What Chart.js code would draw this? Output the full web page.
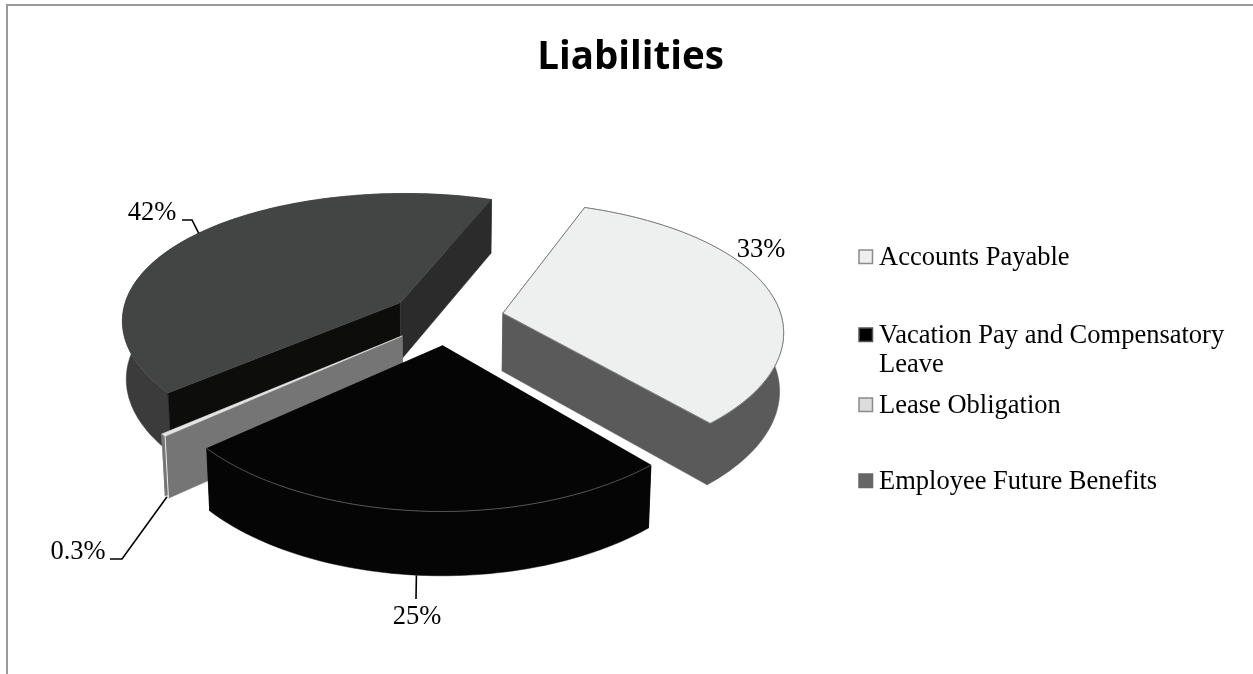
<!DOCTYPE html>
<html>
<head>
<meta charset="utf-8">
<title>Liabilities</title>
<script src="https://cdn.jsdelivr.net/npm/chart.js@4"></script>
<style>
  html, body { margin: 0; background: #fff; overflow: hidden; }
  #frame {
    position: absolute; left: 6px; top: 4px; right: 0; bottom: 0;
    border-top: 2px solid #999; border-left: 2px solid #999;
  }
  #chart { position: absolute; left: 0; top: 0; }
</style>
</head>
<body>
<div id="frame"></div>
<canvas id="chart" width="1253" height="674"></canvas>
<script>
const categories = ['Accounts Payable', 'Vacation Pay and Compensatory Leave', 'Lease Obligation', 'Employee Future Benefits'];
const shares = [33, 25, 0.3, 42];
const shareLabels = ['33%', '25%', '0.3%', '42%'];
const legendLines = [['Accounts Payable'], ['Vacation Pay and Compensatory', 'Leave'], ['Lease Obligation'], ['Employee Future Benefits']];

// slice shading
const topColors = ['#eef0ef', '#050505', '#e4e5e4', '#434544'];
const wallColors = ['#595a59', '#050505', '#cfd0cf', '#3a3b3a'];
const startFaceColors = ['#595a59', '#050505', '#747574', '#0d0d0b'];
const endFaceColors = ['#595a59', '#050505', '#747574', '#2b2b2b'];
const swatchColors = ['#eeeeee', '#000000', '#dddddd', '#666666'];
const swatchBorders = ['#8a8a8a', '#555555', '#8a8a8a', '#666666'];

// painter's order, back of the pie first
const drawOrder = [3, 2, 0, 1];

// tilted pie view
const view = { x: 446.5, y: 318, tilt: 0.468, perspective: 0.000554, widthPerspective: 0.8, depth: 58, taper: 0.012 };

function project(el, angle, radius, level) {
  // arc offsets are applied at a quarter of their value, same as ArcElement.draw
  const mid = (el.startAngle + el.endAngle) / 2;
  const shift = (el.options.offset || 0) / 4;
  const dx = Math.cos(mid) * shift + Math.cos(angle) * radius;
  const dy = Math.sin(mid) * shift + Math.sin(angle) * radius;
  const s = 1 / (1 - view.perspective * dy);
  const sx = 1 + (s - 1) * view.widthPerspective;
  return {
    x: view.x + dx * sx * (1 - view.taper * level),
    y: view.y + view.tilt * dy * s + level * view.depth * Math.sqrt(s)
  };
}

function rimPoints(el, level) {
  const pts = [];
  const steps = Math.max(2, Math.ceil((el.endAngle - el.startAngle) * 40));
  for (let i = 0; i <= steps; i++) {
    const a = el.startAngle + (el.endAngle - el.startAngle) * i / steps;
    pts.push(project(el, a, el.outerRadius, level));
  }
  return pts;
}

function fillPath(ctx, pts, color) {
  ctx.beginPath();
  pts.forEach((p, i) => i ? ctx.lineTo(p.x, p.y) : ctx.moveTo(p.x, p.y));
  ctx.closePath();
  ctx.fillStyle = color;
  ctx.fill();
  // hairline so neighbouring polygons don't leave a seam
  ctx.strokeStyle = color;
  ctx.lineWidth = 0.5;
  ctx.stroke();
}

function strokeLine(ctx, pts, color, width) {
  ctx.beginPath();
  pts.forEach((p, i) => i ? ctx.lineTo(p.x, p.y) : ctx.moveTo(p.x, p.y));
  ctx.strokeStyle = color;
  ctx.lineWidth = width;
  ctx.stroke();
}

function drawSlice(ctx, el, i) {
  const apexTop = project(el, el.startAngle, 0, 0);
  const apexLow = project(el, el.startAngle, 0, 1);
  const top = rimPoints(el, 0);
  const low = rimPoints(el, 1);
  const last = top.length - 1;

  fillPath(ctx, top.concat(low.slice().reverse()), wallColors[i]);
  fillPath(ctx, [apexTop, top[0], low[0], apexLow], startFaceColors[i]);
  fillPath(ctx, [apexTop, top[last], low[last], apexLow], endFaceColors[i]);
  fillPath(ctx, [apexTop].concat(top), el.options.backgroundColor);

  if (i === 0) {
    strokeLine(ctx, [apexTop].concat(top), '#666', 0.8);
    strokeLine(ctx, [apexTop, top[last]], '#666', 0.8);
    strokeLine(ctx, [top[last], low[last]], '#555', 0.8);
  } else if (i === 1) {
    strokeLine(ctx, top, '#666', 0.8);
  } else if (i === 2) {
    strokeLine(ctx, [top[0], low[0]], '#eee', 1);
    strokeLine(ctx, [top[last], low[last]], '#777', 0.8);
  }
}

const pie3d = {
  id: 'pie3d',
  beforeDatasetDraw(chart, args) {
    const arcs = args.meta.data;
    drawOrder.forEach(i => drawSlice(chart.ctx, arcs[i], i));
    return false;
  }
};

// label anchors and leader elbows for the percentages
// turn nudges where the leader leaves the rim, in degrees from the slice middle
const labelSpots = [
  { x: 761, y: 250 },
  { x: 417, y: 617, level: 1, turn: 0.7, elbow: [[416, 599]] },
  { x: 78, y: 552, level: 1, turn: 0, elbow: [[122, 559], [110, 559]] },
  { x: 152, y: 213, level: 0, turn: 2, elbow: [[192, 220], [182, 220]] }
];

const shareLabelsPlugin = {
  id: 'shareLabels',
  afterDatasetsDraw(chart) {
    const ctx = chart.ctx;
    const arcs = chart.getDatasetMeta(0).data;
    ctx.save();
    labelSpots.forEach((spot, i) => {
      if (spot.elbow) {
        const el = arcs[i];
        const a = (el.startAngle + el.endAngle) / 2 + spot.turn * Math.PI / 180;
        const from = project(el, a, el.outerRadius, spot.level);
        const pts = [from].concat(spot.elbow.map(p => ({ x: p[0], y: p[1] })));
        strokeLine(ctx, pts, '#000', 1.6);
      }
      ctx.fillStyle = '#000';
      ctx.font = '26.5px "Liberation Serif"';
      ctx.textAlign = 'center';
      ctx.textBaseline = 'middle';
      ctx.fillText(shareLabels[i], spot.x, spot.y);
    });
    ctx.restore();
  }
};

// legend rows are not evenly spaced, so they're placed by hand
const legendRows = [257, 335, 405, 481];

const sideLegend = {
  id: 'sideLegend',
  afterDraw(chart) {
    const ctx = chart.ctx;
    ctx.save();
    legendLines.forEach((lines, i) => {
      ctx.fillStyle = swatchColors[i];
      ctx.strokeStyle = swatchBorders[i];
      ctx.lineWidth = 1.5;
      ctx.fillRect(859, legendRows[i] - 7, 13.5, 13.5);
      ctx.strokeRect(859, legendRows[i] - 7, 13.5, 13.5);
      ctx.fillStyle = '#000';
      ctx.font = '26.5px "Liberation Serif"';
      ctx.textAlign = 'left';
      ctx.textBaseline = 'middle';
      lines.forEach((line, n) => ctx.fillText(line, 879, legendRows[i] + 1 + n * 29));
    });
    ctx.restore();
  }
};

new Chart(document.getElementById('chart'), {
  type: 'pie',
  data: {
    labels: categories,
    datasets: [{
      data: shares,
      backgroundColor: topColors,
      borderWidth: 0,
      offset: 230,
      radius: 279
    }]
  },
  options: {
    responsive: false,
    animation: false,
    rotation: 20.5,
    layout: { padding: { left: 8 } },
    plugins: {
      legend: { display: false },
      tooltip: { enabled: false },
      title: {
        display: true,
        text: 'Liabilities',
        color: '#000',
        font: { family: 'Open Sans', size: 38.5, weight: 'bold' },
        padding: { top: 35, bottom: 10 }
      }
    }
  },
  plugins: [pie3d, shareLabelsPlugin, sideLegend]
});
</script>
</body>
</html>
